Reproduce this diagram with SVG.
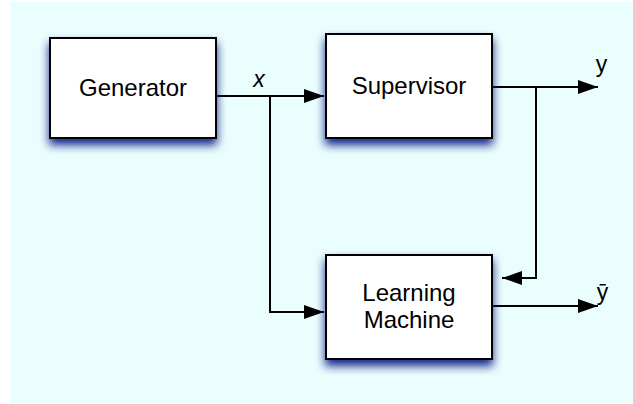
<svg xmlns="http://www.w3.org/2000/svg" width="633" height="404" viewBox="0 0 633 404">
  <style>
    .box { fill: #ffffff; stroke: #000000; stroke-width: 2; filter: url(#shadow); }
    .label { font-family: "Liberation Sans", Arial, sans-serif; font-size: 24px; fill: #000000; text-anchor: middle; }
    .sig { font-family: "Liberation Sans", Arial, sans-serif; font-size: 23px; fill: #000000; text-anchor: middle; }
    .wire { fill: none; stroke: #000000; stroke-width: 2; }
  </style>
  <defs>
    <!-- soft bluish drop shadow under each block -->
    <filter id="shadow" x="-25%" y="-25%" width="150%" height="160%">
      <feGaussianBlur in="SourceAlpha" stdDeviation="5" result="blur"/>
      <feOffset in="blur" dx="0" dy="6" result="off"/>
      <feFlood flood-color="#14238a" flood-opacity="1"/>
      <feComposite in2="off" operator="in" result="shade"/>
      <feMerge>
        <feMergeNode in="shade"/>
        <feMergeNode in="SourceGraphic"/>
      </feMerge>
    </filter>
    <marker id="arrow" viewBox="0 0 20 14" refX="20" refY="7" markerWidth="20" markerHeight="14" markerUnits="userSpaceOnUse" orient="auto">
      <path d="M0,0 L20,7 L0,14 Z" fill="#000000"/>
    </marker>
  </defs>

  <!-- canvas background -->
  <rect x="10" y="2" width="623" height="401" fill="#ebfefe"/>

  <!-- connectors -->
  <g id="connectors">
    <path class="wire" d="M216,96 L324,96" marker-end="url(#arrow)"/>
    <path class="wire" d="M270,96 L270,312 L324,312" marker-end="url(#arrow)"/>
    <path class="wire" d="M492,87 L598,87" marker-end="url(#arrow)"/>
    <path class="wire" d="M536,87 L536,278 L502,278" marker-end="url(#arrow)"/>
    <path class="wire" d="M492,306 L598,306" marker-end="url(#arrow)"/>
    <text class="sig" x="259" y="86.5" font-style="italic">x</text>
    <text class="sig" x="601.5" y="71.5">y</text>
    <text class="sig" x="602.5" y="299.5">ȳ</text>
  </g>

  <g id="generator">
    <rect class="box" x="50" y="38" width="166" height="100"/>
    <text class="label" x="133" y="96">Generator</text>
  </g>

  <g id="supervisor">
    <rect class="box" x="326" y="34" width="166" height="104"/>
    <text class="label" x="409" y="94">Supervisor</text>
  </g>

  <g id="learning-machine">
    <rect class="box" x="326" y="255" width="166" height="104"/>
    <text class="label" x="409" y="300.5">Learning</text>
    <text class="label" x="409" y="328">Machine</text>
  </g>
</svg>
